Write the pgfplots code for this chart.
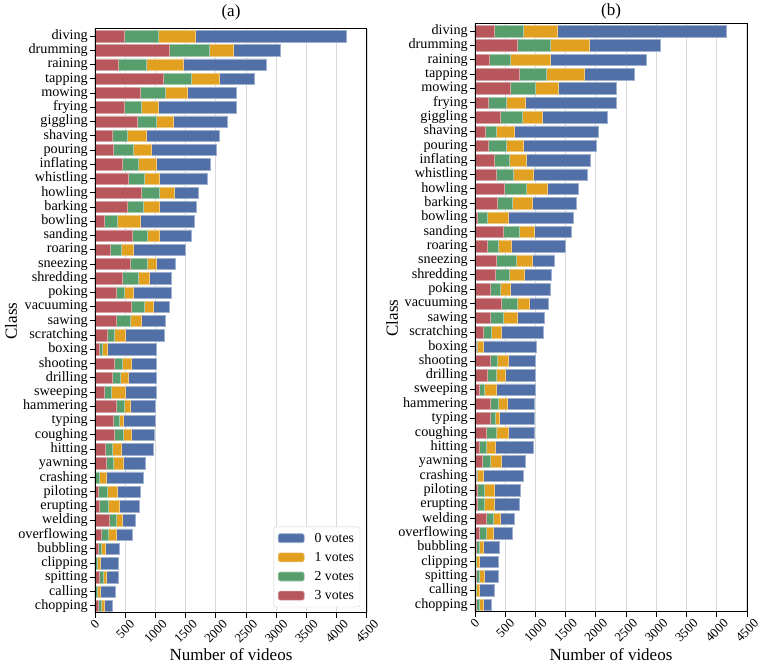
\documentclass[border=0pt]{standalone}
\usepackage{fontspec}
\setmainfont{Liberation Serif}
\usepackage{graphicx}
\usepackage{pgfplots}
\usepackage{pgfplotstable}
\pgfplotsset{compat=1.18}
\definecolor{cblue}{RGB}{82,112,168}
\definecolor{corange}{RGB}{226,160,33}
\definecolor{cgreen}{RGB}{88,158,108}
\definecolor{cred}{RGB}{183,86,91}

\pgfplotstableread{
idx r g o b
0 478 561 617 2500
1 1222 672 400 778
2 378 478 600 1372
3 1122 478 450 583
4 756 400 377 811
5 489 283 267 1305
6 700 306 283 900
7 278 261 311 1206
8 300 339 300 1072
9 456 266 284 905
10 556 266 245 794
11 772 284 250 405
12 528 266 267 617
13 161 211 384 883
14 617 244 211 522
15 261 178 200 855
16 589 283 150 306
17 450 267 189 361
18 356 122 161 617
19 606 211 144 261
20 356 233 183 389
21 206 116 184 644
22 72 50 89 811
23 322 128 156 411
24 278 144 134 450
25 156 116 234 500
26 356 127 106 411
27 306 100 66 528
28 322 150 134 383
29 172 117 144 539
30 189 117 166 361
31 11 61 117 617
32 56 150 166 384
33 72 150 184 327
34 239 117 100 211
35 106 116 134 261
36 50 50 72 228
37 10 29 44 306
38 72 61 56 200
39 5 34 50 244
40 50 50 50 133
}\dataa

\pgfplotstableread{
idx r g o b
0 315 486 557 2794
1 701 541 641 1181
2 237 348 663 1579
3 740 436 624 828
4 580 414 381 960
5 215 298 315 1507
6 414 375 321 1076
7 166 182 298 1402
8 215 298 282 1209
9 315 248 293 1049
10 353 282 331 889
11 486 359 348 513
12 370 243 331 729
13 44 155 359 1076
14 469 260 248 608
15 199 182 215 895
16 348 331 265 376
17 331 232 249 447
18 259 155 166 673
19 431 265 209 310
20 248 216 232 458
21 133 132 171 701
22 17 27 89 877
23 248 116 183 458
24 210 143 144 497
25 66 94 188 646
26 248 133 160 447
27 248 83 72 585
28 193 166 188 430
29 77 105 160 630
30 116 132 183 397
31 17 27 89 673
32 33 116 166 430
33 33 116 166 414
34 182 116 116 243
35 66 116 116 315
36 17 49 67 265
37 5 12 49 326
38 17 60 72 237
39 5 12 49 260
40 17 49 67 143
}\datab

\pgfplotsset{
  layers/mylayers/.define layer set={axis background,axis grid,main,axis ticks,axis lines,axis tick labels,axis descriptions,axis foreground}{/pgfplots/layers/standard},
  common/.style={
    set layers=mylayers,
    scale only axis, width=272pt, anchor=south west,
    xbar stacked, bar width=0.8,
    xmin=0, xmax=4500, ymin=-0.5, ymax=40.5, y dir=reverse,
    ytick={0,...,40},
    yticklabels={diving,drumming,raining,tapping,mowing,frying,giggling,shaving,pouring,inflating,whistling,howling,barking,bowling,sanding,roaring,sneezing,shredding,poking,vacuuming,sawing,scratching,boxing,shooting,drilling,sweeping,hammering,typing,coughing,hitting,yawning,crashing,piloting,erupting,welding,overflowing,bubbling,clipping,spitting,calling,chopping},
    xtick={0,500,...,4500},
    xticklabels={\rotatebox{45}{0},\rotatebox{45}{500},\rotatebox{45}{1000},\rotatebox{45}{1500},\rotatebox{45}{2000},\rotatebox{45}{2500},\rotatebox{45}{3000},\rotatebox{45}{3500},\rotatebox{45}{4000},\rotatebox{45}{4500}},
    xmajorgrids, grid style={color=black!15, line width=1.1pt},
    axis line style={line width=1pt, black},
    tick align=outside, major tick length=5pt,
    tick style={black, line width=1pt},
    tick pos=left,
    xticklabel style={font=\fontsize{13}{15}\selectfont, inner sep=1pt, anchor=north},
    yticklabel style={font=\fontsize{14.2}{16}\selectfont, inner sep=2pt},
    legend image code/.code={\fill[#1] (0pt,-4.5pt) rectangle (26pt,4.5pt);},
  },
  pr/.style={fill=cred, draw=cred!55!white, line width=0.6pt},
  pg/.style={fill=cgreen, draw=cgreen!55!white, line width=0.6pt},
  po/.style={fill=corange, draw=corange!55!white, line width=0.6pt},
  pb/.style={fill=cblue, draw=cblue!55!white, line width=0.6pt},
}

\begin{document}
\begin{tikzpicture}
\path (0,0) rectangle (760pt,666pt);
\begin{axis}[common, at={(95pt,53pt)}, height=584pt,
  reverse legend,
  legend style={at={(0.975,0.01)}, anchor=south east, draw=black!18, rounded corners=2pt,
    fill=white, font=\fontsize{13.8}{15}\selectfont, row sep=4.5pt, inner sep=4pt,
    /tikz/every odd column/.append style={column sep=8pt}},
  legend cell align=left]
\addplot[pr] table[x=r,y=idx]{\dataa};
\addplot[pg] table[x=g,y=idx]{\dataa};
\addplot[po] table[x=o,y=idx]{\dataa};
\addplot[pb] table[x=b,y=idx]{\dataa};
\legend{3 votes,2 votes,1 votes,0 votes}
\end{axis}
\begin{axis}[common, at={(475pt,54pt)}, height=588pt]
\addplot[pr] table[x=r,y=idx]{\datab};
\addplot[pg] table[x=g,y=idx]{\datab};
\addplot[po] table[x=o,y=idx]{\datab};
\addplot[pb] table[x=b,y=idx]{\datab};
\end{axis}
\node[font=\fontsize{17}{20}\selectfont] at (231pt,654pt) {(a)};
\node[font=\fontsize{17}{20}\selectfont] at (611pt,655pt) {(b)};
\node[font=\fontsize{17}{20}\selectfont, anchor=base] at (231pt,5pt) {Number of videos};
\node[font=\fontsize{17}{20}\selectfont, anchor=base] at (611pt,5pt) {Number of videos};
\node[font=\fontsize{17}{20}\selectfont, rotate=90] at (11pt,345pt) {Class};
\node[font=\fontsize{17}{20}\selectfont, rotate=90] at (392pt,348pt) {Class};
\pgfresetboundingbox
\path[use as bounding box] (0,0) rectangle (760pt,666pt);
\end{tikzpicture}
\end{document}
